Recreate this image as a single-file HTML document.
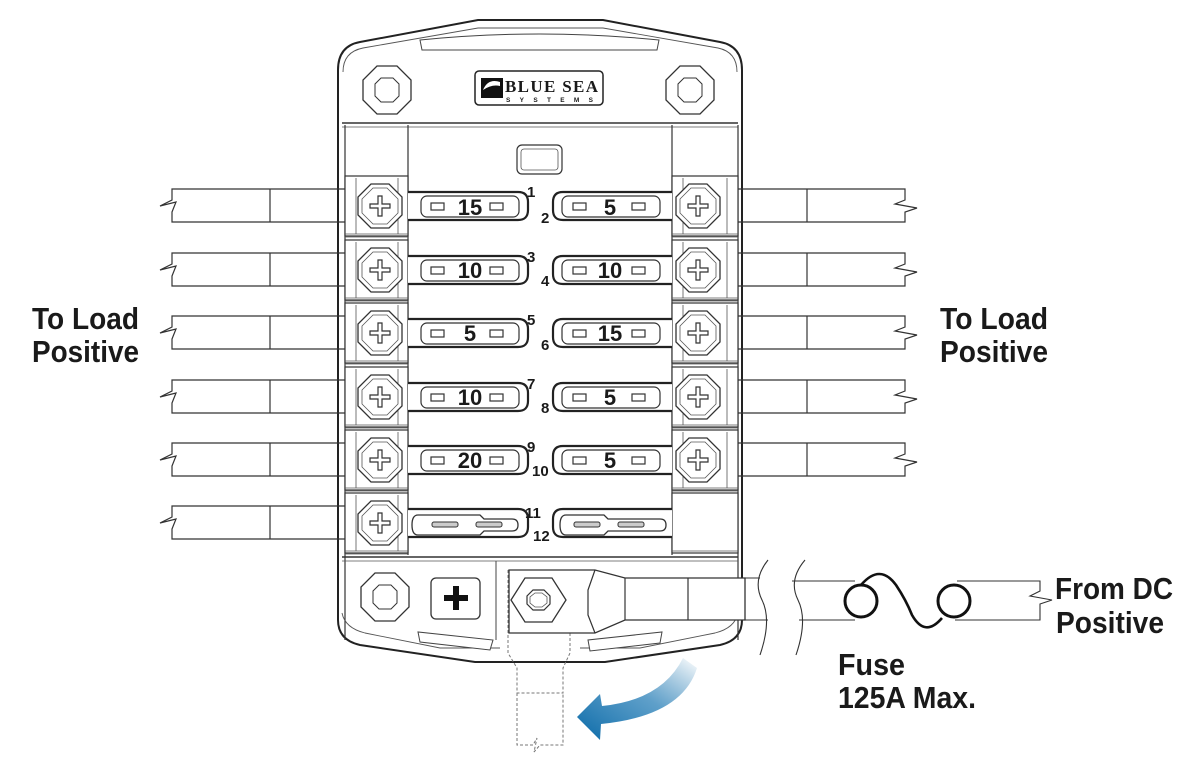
<!DOCTYPE html>
<html><head><meta charset="utf-8"><style>
html,body{margin:0;padding:0;background:#fff;width:1200px;height:778px;overflow:hidden}
svg{display:block}
.t{font-family:"Liberation Sans",sans-serif;font-weight:bold;fill:#1a1a1a}
</style></head><body>
<svg width="1200" height="778" viewBox="0 0 1200 778" xmlns="http://www.w3.org/2000/svg">
<defs>
<linearGradient id="ag" x1="1" y1="0" x2="0" y2="1">
<stop offset="0" stop-color="#0a6aa8" stop-opacity="0"/>
<stop offset="0.45" stop-color="#2a80b8" stop-opacity="0.75"/>
<stop offset="1" stop-color="#0a6aa8"/>
</linearGradient>
<g id="screw">
<polygon points="-9,-22 9,-22 22,-9 22,9 9,22 -9,22 -22,9 -22,-9" fill="#fff" stroke="#333" stroke-width="1.3"/>
<polygon points="-7,-18 7,-18 18,-7 18,7 7,18 -7,18 -18,7 -18,-7" fill="none" stroke="#555" stroke-width="0.8"/>
<path d="M-2,-10h4v8h8v4h-8v8h-4v-8h-8v-4h8z" fill="#fff" stroke="#333" stroke-width="1.2"/>
</g>
<g id="lwire" fill="none" stroke="#333" stroke-width="1.2">
<path d="M345,-17 H172 V-6 L160,0 L176,-4 L172,6 V16 H345"/>
<line x1="270" y1="-17" x2="270" y2="16"/>
</g>
<g id="rwire" fill="none" stroke="#333" stroke-width="1.2">
<path d="M738,-17 H905 V-6 L895,-2 L917,2 L905,6 V16 H738"/>
<line x1="807" y1="-17" x2="807" y2="16"/>
</g>
<g id="lcell">
<rect x="345" y="-30" width="63" height="60" fill="#fff" stroke="#333" stroke-width="1.2"/>
<line x1="356" y1="-28" x2="356" y2="28" stroke="#555" stroke-width="0.8"/>
<line x1="398" y1="-28" x2="398" y2="28" stroke="#555" stroke-width="0.8"/>
<line x1="345" y1="28" x2="408" y2="28" stroke="#555" stroke-width="0.8"/>
<line x1="345" y1="31" x2="408" y2="31" stroke="#555" stroke-width="0.8"/>
<use href="#screw" x="380" y="0"/>
</g>
<g id="rcell">
<rect x="672" y="-30" width="66" height="60" fill="#fff" stroke="#333" stroke-width="1.2"/>
<line x1="683" y1="-28" x2="683" y2="28" stroke="#555" stroke-width="0.8"/>
<line x1="727" y1="-28" x2="727" y2="28" stroke="#555" stroke-width="0.8"/>
<line x1="672" y1="28" x2="738" y2="28" stroke="#555" stroke-width="0.8"/>
<line x1="672" y1="31" x2="738" y2="31" stroke="#555" stroke-width="0.8"/>
<use href="#screw" x="698" y="0"/>
</g>
<g id="lfuse">
<path d="M408,-14 H518 Q528,-14 528,-4 V4 Q528,14 518,14 H408" fill="#fff" stroke="#222" stroke-width="2.2"/>
<rect x="421" y="-10" width="98" height="21" rx="6" fill="#fff" stroke="#333" stroke-width="1.2"/>
<rect x="431" y="-3" width="13" height="7" fill="#fff" stroke="#333" stroke-width="1.2"/>
<rect x="490" y="-3" width="13" height="7" fill="#fff" stroke="#333" stroke-width="1.2"/>
</g>
<g id="rfuse">
<path d="M672,-14 H563 Q553,-14 553,-4 V4 Q553,14 563,14 H672" fill="#fff" stroke="#222" stroke-width="2.2"/>
<rect x="562" y="-10" width="98" height="21" rx="6" fill="#fff" stroke="#333" stroke-width="1.2"/>
<rect x="573" y="-3" width="13" height="7" fill="#fff" stroke="#333" stroke-width="1.2"/>
<rect x="632" y="-3" width="13" height="7" fill="#fff" stroke="#333" stroke-width="1.2"/>
</g>
</defs>

<path d="M338,70 Q338,46 360,42 L478,20 H603 L720,42 Q742,46 742,70 V620 Q742,640 720,645 L605,662 H475 L360,645 Q338,640 338,620 Z" fill="#fff" stroke="#222" stroke-width="2"/>
<path d="M343,72 Q343,52 363,48 L478,28 H603 L718,48 Q737,52 737,72" fill="none" stroke="#555" stroke-width="0.9"/>
<path d="M420,40 L422,50 L657,50 L659,40 Q540,28 420,40 Z" fill="#fff" stroke="#444" stroke-width="1"/>
<line x1="342" y1="123" x2="738" y2="123" stroke="#333" stroke-width="1.5"/>
<line x1="342" y1="127" x2="738" y2="127" stroke="#555" stroke-width="0.8"/>
<line x1="408" y1="125" x2="408" y2="555" stroke="#333" stroke-width="1.2"/>
<line x1="672" y1="125" x2="672" y2="555" stroke="#333" stroke-width="1.2"/>
<line x1="345" y1="125" x2="345" y2="640" stroke="#333" stroke-width="1.2"/>
<line x1="738" y1="125" x2="738" y2="640" stroke="#333" stroke-width="1.2"/>
<g transform="translate(387,90)"><polygon points="-10,-24 10,-24 24,-10 24,10 10,24 -10,24 -24,10 -24,-10" fill="#fff" stroke="#333" stroke-width="1.3"/><polygon points="-6,-12 6,-12 12,-6 12,6 6,12 -6,12 -12,6 -12,-6" fill="#fff" stroke="#333" stroke-width="1"/></g>
<g transform="translate(690,90)"><polygon points="-10,-24 10,-24 24,-10 24,10 10,24 -10,24 -24,10 -24,-10" fill="#fff" stroke="#333" stroke-width="1.3"/><polygon points="-6,-12 6,-12 12,-6 12,6 6,12 -6,12 -12,6 -12,-6" fill="#fff" stroke="#333" stroke-width="1"/></g>
<rect x="475" y="71" width="128" height="34" rx="4" fill="#fff" stroke="#222" stroke-width="1.5"/>
<rect x="481" y="78" width="22" height="20" fill="#111"/>
<path d="M483,90 Q488,78 500,82 L500,86 Q492,84 483,90Z" fill="#fff"/>
<text x="505" y="92" class="t" style="font-family:'Liberation Serif',serif" font-size="17" textLength="93">BLUE SEA</text>
<text x="506" y="102" class="t" font-size="6.5" textLength="92" style="letter-spacing:5px">SYSTEMS</text>
<rect x="517" y="145" width="45" height="29" rx="5" fill="#fff" stroke="#333" stroke-width="1.2"/>
<rect x="521" y="149" width="37" height="21" rx="3" fill="none" stroke="#555" stroke-width="0.8"/>

<g transform="translate(0,206)"><use href="#lwire"/><use href="#rwire"/><use href="#lcell"/><use href="#rcell"/><use href="#lfuse"/><use href="#rfuse"/></g>
<g transform="translate(0,270)"><use href="#lwire"/><use href="#rwire"/><use href="#lcell"/><use href="#rcell"/><use href="#lfuse"/><use href="#rfuse"/></g>
<g transform="translate(0,333)"><use href="#lwire"/><use href="#rwire"/><use href="#lcell"/><use href="#rcell"/><use href="#lfuse"/><use href="#rfuse"/></g>
<g transform="translate(0,397)"><use href="#lwire"/><use href="#rwire"/><use href="#lcell"/><use href="#rcell"/><use href="#lfuse"/><use href="#rfuse"/></g>
<g transform="translate(0,460)"><use href="#lwire"/><use href="#rwire"/><use href="#lcell"/><use href="#rcell"/><use href="#lfuse"/><use href="#rfuse"/></g>
<g transform="translate(0,523)"><use href="#lwire"/><use href="#lcell"/>
<rect x="672" y="-30" width="66" height="60" fill="#fff" stroke="#333" stroke-width="1.2"/>
<line x1="672" y1="28" x2="738" y2="28" stroke="#555" stroke-width="0.8"/>
<path d="M408,-14 H518 Q528,-14 528,-4 V4 Q528,14 518,14 H408" fill="#fff" stroke="#222" stroke-width="2.2"/>
<path d="M418,-8 H480 L484,-4 H512 Q518,-4 518,2 Q518,8 512,8 H484 L480,12 H418 Q412,12 412,2 Q412,-8 418,-8Z" fill="#fff" stroke="#333" stroke-width="1.3"/>
<rect x="432" y="-1" width="26" height="5" rx="2" fill="#ccc" stroke="#333" stroke-width="1"/>
<rect x="476" y="-1" width="26" height="5" rx="2" fill="#ccc" stroke="#333" stroke-width="1"/>
<path d="M672,-14 H563 Q553,-14 553,-4 V4 Q553,14 563,14 H672" fill="#fff" stroke="#222" stroke-width="2.2"/>
<path d="M566,-8 H604 L608,-4 H660 Q666,-4 666,2 Q666,8 660,8 H608 L604,12 H566 Q560,12 560,2 Q560,-8 566,-8Z" fill="#fff" stroke="#333" stroke-width="1.3"/>
<rect x="574" y="-1" width="26" height="5" rx="2" fill="#ccc" stroke="#333" stroke-width="1"/>
<rect x="618" y="-1" width="26" height="5" rx="2" fill="#ccc" stroke="#333" stroke-width="1"/>
</g>
<line x1="342" y1="557" x2="738" y2="557" stroke="#333" stroke-width="1.5"/>
<line x1="342" y1="561" x2="738" y2="561" stroke="#555" stroke-width="0.8"/>

<g class="t" font-size="22">
<text x="470" y="215" text-anchor="middle">15</text><text x="610" y="215" text-anchor="middle">5</text>
<text x="470" y="278" text-anchor="middle">10</text><text x="610" y="278" text-anchor="middle">10</text>
<text x="470" y="341" text-anchor="middle">5</text><text x="610" y="341" text-anchor="middle">15</text>
<text x="470" y="405" text-anchor="middle">10</text><text x="610" y="405" text-anchor="middle">5</text>
<text x="470" y="468" text-anchor="middle">20</text><text x="610" y="468" text-anchor="middle">5</text>
</g>
<g class="t" font-size="15">
<text x="527" y="197">1</text><text x="541" y="223">2</text>
<text x="527" y="262">3</text><text x="541" y="286">4</text>
<text x="527" y="325">5</text><text x="541" y="350">6</text>
<text x="527" y="389">7</text><text x="541" y="413">8</text>
<text x="527" y="452">9</text><text x="532" y="476">10</text>
<text x="525" y="518">11</text><text x="533" y="541">12</text>
</g>

<path d="M342,613 Q345,628 365,633 L440,648 H500 M580,648 H640 L715,633 Q735,628 738,613" fill="none" stroke="#555" stroke-width="0.9"/>
<g transform="translate(385,597)"><polygon points="-10,-24 10,-24 24,-10 24,10 10,24 -10,24 -24,10 -24,-10" fill="#fff" stroke="#333" stroke-width="1.3"/><polygon points="-6,-12 6,-12 12,-6 12,6 6,12 -6,12 -12,6 -12,-6" fill="#fff" stroke="#333" stroke-width="1"/></g>
<rect x="431" y="578" width="49" height="41" rx="5" fill="#fff" stroke="#333" stroke-width="1.3"/>
<path d="M453,586h6v9h9v6h-9v9h-6v-9h-9v-6h9z" fill="#111"/>
<path d="M418,632 L420,642 L490,650 L493,640 Z" fill="#fff" stroke="#444" stroke-width="1"/>
<path d="M588,640 L590,651 L660,643 L662,632 Z" fill="#fff" stroke="#444" stroke-width="1"/>
<line x1="496" y1="561" x2="496" y2="640" stroke="#444" stroke-width="1"/>
<path d="M508,570 V653 L517,668 V693 H563 V668 L570,653 V570" fill="none" stroke="#777" stroke-width="1" stroke-dasharray="3,2"/>
<path d="M517,693 V745 H533 L537,738 L534,752 L540,745 H563 V693" fill="none" stroke="#777" stroke-width="1" stroke-dasharray="3,2"/>
<path d="M509,570 H595 L625,578 H745 V620 H625 L595,633 H509 Z" fill="#fff" stroke="#333" stroke-width="1.3"/>
<path d="M595,570 L588,590 V615 L595,633" fill="none" stroke="#333" stroke-width="1.2"/>
<line x1="625" y1="578" x2="625" y2="620" stroke="#333" stroke-width="1.2"/>
<line x1="688" y1="578" x2="688" y2="620" stroke="#333" stroke-width="1.2"/>
<polygon points="525,578 552,578 566,600 552,622 525,622 511,600" fill="#fff" stroke="#333" stroke-width="1.3"/>
<polygon points="533,590 544,590 550,596 550,604 544,610 533,610 527,604 527,596" fill="#fff" stroke="#333" stroke-width="1.2"/>
<polygon points="535,593 542,593 547,597 547,603 542,607 535,607 530,603 530,597" fill="none" stroke="#555" stroke-width="0.8"/>
<path d="M768,560 Q752,580 762,600 Q772,620 760,655" fill="none" stroke="#333" stroke-width="1.1"/>
<path d="M805,560 Q788,580 798,600 Q808,620 796,655" fill="none" stroke="#333" stroke-width="1.1"/>
<path d="M745,578 H760 M745,620 H768" stroke="#333" stroke-width="1.1"/>
<path d="M792,581 H855 M799,620 H855 M957,581 H1040 V591 L1030,596 L1052,600 L1040,604 V620 H955" fill="none" stroke="#333" stroke-width="1.1"/>
<circle cx="861" cy="601" r="16" fill="#fff" stroke="#111" stroke-width="3"/>
<circle cx="954" cy="601" r="16" fill="#fff" stroke="#111" stroke-width="3"/>
<path d="M861,585 Q880,563 896,585 Q906,600 912,615 Q925,638 942,618" fill="none" stroke="#111" stroke-width="2.6"/>
<path d="M683,658 Q662,700 602,706 L600,694 L577,717 L600,740 L601,724 Q682,716 697,668 Z" fill="url(#ag)"/>

<g class="t" font-size="31">
<text x="32" y="329" textLength="107" lengthAdjust="spacingAndGlyphs">To Load</text>
<text x="32" y="362" textLength="107" lengthAdjust="spacingAndGlyphs">Positive</text>
<text x="940" y="329" textLength="108" lengthAdjust="spacingAndGlyphs">To Load</text>
<text x="940" y="362" textLength="108" lengthAdjust="spacingAndGlyphs">Positive</text>
<text x="1055" y="599" textLength="118" lengthAdjust="spacingAndGlyphs">From DC</text>
<text x="1056" y="633" textLength="108" lengthAdjust="spacingAndGlyphs">Positive</text>
<text x="838" y="675" textLength="67" lengthAdjust="spacingAndGlyphs">Fuse</text>
<text x="838" y="708" textLength="138" lengthAdjust="spacingAndGlyphs">125A Max.</text>
</g>
</svg>
</body></html>
